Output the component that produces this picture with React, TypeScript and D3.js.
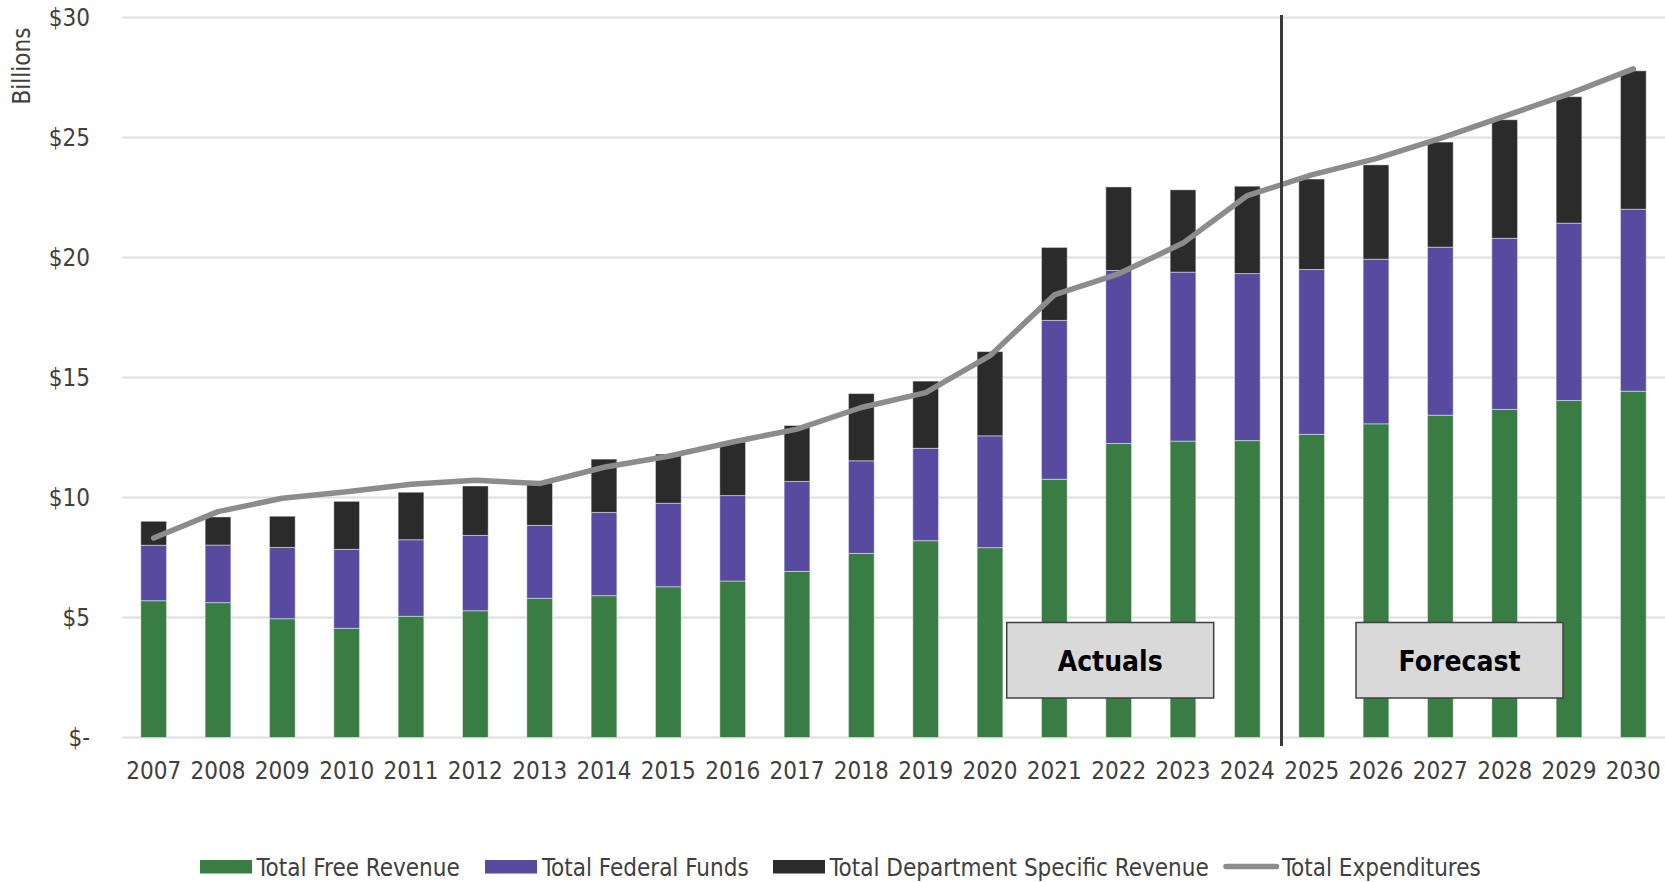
import React from "react";
import * as d3 from "d3";

const years = ["2007","2008","2009","2010","2011","2012","2013","2014","2015","2016","2017","2018","2019","2020","2021","2022","2023","2024","2025","2026","2027","2028","2029","2030"];
const freeRevenue = [5.70,5.62,4.95,4.55,5.05,5.28,5.80,5.91,6.28,6.52,6.92,7.67,8.20,7.91,10.76,12.25,12.35,12.37,12.63,13.07,13.43,13.67,14.04,14.43];
const federalFunds = [2.31,2.40,2.97,3.29,3.19,3.14,3.04,3.47,3.48,3.56,3.75,3.86,3.85,4.66,6.62,7.21,7.04,6.96,6.87,6.86,7.00,7.13,7.39,7.58];
const deptRevenue = [1.00,1.17,1.30,2.00,1.98,2.06,1.76,2.22,2.05,2.23,2.33,2.80,2.80,3.51,3.04,3.48,3.43,3.64,3.77,3.93,4.38,4.94,5.27,5.77];
const expenditures = [8.31,9.41,9.97,10.24,10.55,10.72,10.58,11.26,11.72,12.31,12.85,13.75,14.37,15.91,18.44,19.32,20.60,22.58,23.44,24.12,24.96,25.89,26.82,27.86];
const yTicks = [0,5,10,15,20,25,30];
const seriesNames = ["Total Free Revenue","Total Federal Funds","Total Department Specific Revenue"];
const lineName = "Total Expenditures";
const firstForecastYear = "2025";

const W = 1665, H = 882;
const COLORS = ["#3a7d44", "#574a9f", "#2b2b2b"];
const LINE_COLOR = "#8c8c8c";
const TEXT = "#404040";
const FONT = "'DejaVu Sans Condensed', 'Liberation Sans', sans-serif";

export default function App() {
  const x = d3.scaleBand<string>().domain(years).range([121.5, 1665.5]).paddingInner(0.6).paddingOuter(0.3);
  const y = d3.scaleLinear().domain([0, 30]).range([737.5, 17.5]);

  const table = years.map((yr, i) => ({ year: yr, free: freeRevenue[i], fed: federalFunds[i], dept: deptRevenue[i] }));
  const stacked = d3.stack<any>().keys(["free", "fed", "dept"])(table);

  const line = d3.line<number>()
    .x((_, i) => (x(years[i]) as number) + x.bandwidth() / 2)
    .y((d) => y(d));

  const fmt = (v: number) => (v === 0 ? "$-" : `$${v}`);
  const sepX = (x(firstForecastYear) as number) - (x.step() - x.bandwidth()) / 2 + 2;

  const legendItems = [
    { sx: 200, tx: 256.5, label: seriesNames[0], color: COLORS[0] },
    { sx: 485, tx: 542, label: seriesNames[1], color: COLORS[1] },
    { sx: 773, tx: 829.5, label: seriesNames[2], color: COLORS[2] },
  ];

  return (
    <svg width={W} height={H} style={{ position: "absolute", left: 0, top: 0, background: "#fff" }} fontFamily={FONT}>
      {yTicks.map((t) => (
        <line key={t} x1={122} x2={1665} y1={y(t)} y2={y(t)} stroke="#dedede" strokeWidth={2} />
      ))}
      {yTicks.map((t) => (
        <text key={"l" + t} x={90} y={y(t)} dy="0.35em" textAnchor="end" fontSize={24} fill={TEXT}>{fmt(t)}</text>
      ))}
      <text transform="translate(30,66) rotate(-90)" textAnchor="middle" fontSize={24} fill={TEXT}>Billions</text>

      {stacked.map((s, si) => (
        <g key={si} fill={COLORS[si]}>
          {s.map((d, i) => (
            <rect key={i} x={x(years[i])} width={x.bandwidth()} y={y(d[1])} height={y(d[0]) - y(d[1])}
              stroke="rgba(255,255,255,0.45)" strokeWidth={1} />
          ))}
        </g>
      ))}

      <path d={line(expenditures) || ""} fill="none" stroke={LINE_COLOR} strokeWidth={5.5} strokeLinecap="round" strokeLinejoin="round" />

      <line x1={sepX} x2={sepX} y1={15} y2={746} stroke="#3a3a3a" strokeWidth={3} />

      {years.map((yr) => (
        <text key={yr} x={(x(yr) as number) + x.bandwidth() / 2} y={779} textAnchor="middle" fontSize={24} fill={TEXT}>{yr}</text>
      ))}

      <g>
        <rect x={1006.7} y={622.5} width={207} height={75.5} fill="#d9d9d9" stroke="#404040" strokeWidth={1.5} />
        <text x={1110.2} y={670.5} textAnchor="middle" fontSize={28} fontWeight="bold" fill="#000">Actuals</text>
        <rect x={1356} y={622.5} width={207} height={75.5} fill="#d9d9d9" stroke="#404040" strokeWidth={1.5} />
        <text x={1459.5} y={670.5} textAnchor="middle" fontSize={28} fontWeight="bold" fill="#000">Forecast</text>
      </g>

      {legendItems.map((it) => (
        <g key={it.label}>
          <rect x={it.sx} y={860} width={52} height={13.5} fill={it.color} />
          <text x={it.tx} y={876} fontSize={24} fill={TEXT}>{it.label}</text>
        </g>
      ))}
      <line x1={1226} x2={1276.5} y1={866.5} y2={866.5} stroke={LINE_COLOR} strokeWidth={5.5} strokeLinecap="round" />
      <text x={1282} y={876} fontSize={24} fill={TEXT}>{lineName}</text>
    </svg>
  );
}
